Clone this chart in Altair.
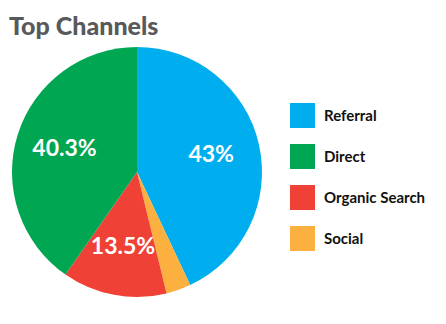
import altair as alt
import pandas as pd

channels = ["Referral", "Social", "Organic Search", "Direct"]
values = [43.0, 3.2, 13.5, 40.3]
labels = ["43%", "", "13.5%", "40.3%"]
order = [1, 2, 3, 4]

legend_order = ["Referral", "Direct", "Organic Search", "Social"]
legend_colors = ["#00AEEF", "#00A651", "#EF4136", "#FBB040"]

df = pd.DataFrame({"channel": channels, "value": values, "label": labels, "ord": order})

color = alt.Color(
    "channel:N",
    scale=alt.Scale(domain=legend_order, range=legend_colors),
    legend=alt.Legend(
        title=None,
        orient="none",
        legendX=278,
        legendY=56,
        symbolType="square",
        symbolSize=625,
        symbolStrokeWidth=0,
        symbolOpacity=1,
        labelFont="Lato",
        labelFontSize=15,
        labelFontWeight="bold",
        labelColor="#111111",
        labelOffset=9,
        rowPadding=16,
        padding=0,
    ),
)

base = alt.Chart(df).encode(
    theta=alt.Theta("value:Q", stack=True),
    order=alt.Order("ord:Q"),
)

arcs = base.mark_arc(outerRadius=125, strokeWidth=0).encode(color=color)
text = base.mark_text(radius=76, font="Lato", fontSize=23, fontWeight="bold", color="white").encode(
    text="label:N"
)

chart = (
    (arcs + text)
    .properties(
        width=250,
        height=250,
        padding={"left": 12, "top": 47, "right": 184, "bottom": 27},
        autosize=alt.AutoSizeParams(type="none"),
        title=alt.TitleParams(
            "Top Channels",
            anchor="start",
            frame="group",
            font="Lato",
            fontSize=25,
            fontWeight=900,
            color="#58595B",
            offset=7,
            dx=-3,
        ),
    )
    .configure_view(stroke=None)
)

chart.save("out.html", embed_options={"renderer": "svg", "actions": False})
